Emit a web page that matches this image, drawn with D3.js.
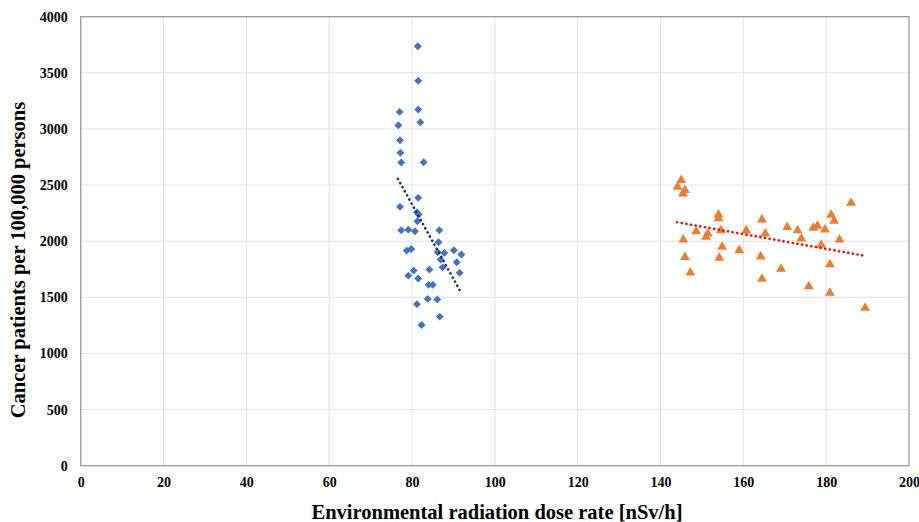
<!DOCTYPE html>
<html>
<head>
<meta charset="utf-8">
<script src="https://cdn.jsdelivr.net/npm/d3@7"></script>
<style>
  html, body { margin: 0; padding: 0; background: #fff; }
  svg { display: block; }
  text { font-family: "Liberation Serif", "Times New Roman", serif; font-weight: bold; fill: #000; }
</style>
</head>
<body>
<svg id="chart" width="919" height="522"></svg>
<script>
// Series A (blue diamonds): dose rate [nSv/h], patients per 100,000
const blueX = [81.4, 81.5, 77.0, 81.5, 76.7, 82.0, 77.1, 77.2, 77.4, 82.8,
               81.5, 77.1, 81.2, 81.6, 81.3, 77.4, 79.1, 80.7, 86.6, 86.4,
               78.7, 79.8, 86.2, 87.8, 90.1, 91.9, 86.9, 90.8, 87.4, 80.4,
               84.2, 79.1, 91.5, 81.5, 84.0, 85.0, 83.8, 86.1, 81.2, 86.7, 82.3];
const blueY = [3737, 3429, 3152, 3173, 3033, 3060, 2899, 2787, 2701, 2703,
               2386, 2306, 2258, 2237, 2178, 2097, 2103, 2088, 2097, 1990,
               1916, 1931, 1901, 1896, 1919, 1881, 1836, 1812, 1767, 1738,
               1747, 1693, 1718, 1667, 1611, 1611, 1486, 1480, 1438, 1328, 1254];
// Series B (orange triangles)
const orangeX = [145.0, 144.1, 145.9, 145.4, 154.0, 154.0, 164.5, 148.6, 151.4, 151.0,
                 154.6, 160.7, 165.3, 170.6, 145.5, 154.9, 159.0, 145.9, 154.2, 164.2,
                 147.2, 169.1, 164.5, 186.0, 181.2, 181.9, 173.1, 176.9, 177.9, 179.7,
                 174.0, 183.2, 178.8, 180.9, 175.8, 180.9, 189.4];
const orangeY = [2543, 2484, 2454, 2424, 2237, 2202, 2193, 2088, 2068, 2038,
                 2097, 2095, 2068, 2124, 2014, 1949, 1919, 1857, 1851, 1863,
                 1720, 1753, 1664, 2341, 2234, 2181, 2097, 2119, 2136, 2103,
                 2023, 2014, 1967, 1794, 1598, 1539, 1406];
// Linear trendlines (endpoints)
const blueTrendX = [76.6, 91.8];
const blueTrendY = [2555, 1545];
const orangeTrendX = [144.0, 189.0];
const orangeTrendY = [2169, 1872];
// Axis ticks
const xTicks = [0, 20, 40, 60, 80, 100, 120, 140, 160, 180, 200];
const yTicks = [0, 500, 1000, 1500, 2000, 2500, 3000, 3500, 4000];
const xTitle = "Environmental radiation dose rate [nSv/h]";
const yTitle = "Cancer patients per 100,000 persons";

const svg = d3.select("#chart");
const L = 80.7, R = 909, T = 16.7, B = 465.7;
const x = d3.scaleLinear().domain([0, 200]).range([L, R]);
const y = d3.scaleLinear().domain([0, 4000]).range([B, T]);

// gridlines
svg.append("g").selectAll("line").data(xTicks.slice(1, -1)).join("line")
  .attr("x1", d => x(d)).attr("x2", d => x(d)).attr("y1", T).attr("y2", B)
  .attr("stroke", "#e2e2e2").attr("stroke-width", 1);
svg.append("g").selectAll("line").data(yTicks.slice(1, -1)).join("line")
  .attr("x1", L).attr("x2", R).attr("y1", d => y(d)).attr("y2", d => y(d))
  .attr("stroke", "#e2e2e2").attr("stroke-width", 1);

// plot border
svg.append("rect").attr("x", L).attr("y", T).attr("width", R - L).attr("height", B - T)
  .attr("fill", "none").attr("stroke", "#9a9a9a").attr("stroke-width", 1.3);

// axes (labels only)
const xAxis = d3.axisBottom(x).tickValues(xTicks).tickFormat(d3.format("d")).tickSize(0).tickPadding(11);
const gx = svg.append("g").attr("transform", `translate(0,${B})`).call(xAxis);
gx.select(".domain").remove();
gx.selectAll("text").style("font-size", "14px").style("font-family", "Liberation Serif").style("font-weight", "bold").attr("fill", "#000");

const yAxis = d3.axisLeft(y).tickValues(yTicks).tickFormat(d3.format("d")).tickSize(0).tickPadding(13);
const gy = svg.append("g").attr("transform", `translate(${L},0)`).call(yAxis);
gy.select(".domain").remove();
gy.selectAll("text").style("font-size", "14px").style("font-family", "Liberation Serif").style("font-weight", "bold").attr("fill", "#000");

// titles
svg.append("text").attr("x", 497).attr("y", 519).attr("text-anchor", "middle")
  .style("font-size", "20.5px").text(xTitle);
svg.append("text").attr("transform", "translate(25,260) rotate(-90)").attr("text-anchor", "middle")
  .style("font-size", "20.5px").text(yTitle);

// trendlines
function trend(xs, ys, color) {
  const pts = xs.map((v, i) => [x(v), y(ys[i])]);
  svg.append("path").attr("d", d3.line()(pts))
    .attr("fill", "none").attr("stroke", color).attr("stroke-width", 2.6)
    .attr("stroke-dasharray", "0.1 4.6").attr("stroke-linecap", "round");
}

// points
const blue = blueX.map((v, i) => [v, blueY[i]]);
const orange = orangeX.map((v, i) => [v, orangeY[i]]);
svg.append("g").selectAll("path").data(blue).join("path")
  .attr("d", d3.symbol().type(d3.symbolDiamond2).size(40))
  .attr("transform", d => `translate(${x(d[0])},${y(d[1])})`)
  .attr("fill", "#4472C4");
svg.append("g").selectAll("path").data(orange).join("path")
  .attr("d", d3.symbol().type(d3.symbolTriangle).size(42))
  .attr("transform", d => `translate(${x(d[0])},${y(d[1])})`)
  .attr("fill", "#ED7D31");

trend(blueTrendX, blueTrendY, "#1F2F5F");
trend(orangeTrendX, orangeTrendY, "#FF0000");
</script>
</body>
</html>
